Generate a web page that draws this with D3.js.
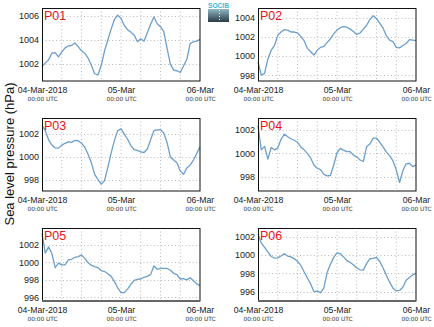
<!DOCTYPE html>
<html><head><meta charset="utf-8">
<script src="https://cdn.jsdelivr.net/npm/d3@7"></script>
<style>body{margin:0;background:#fff}svg{display:block;font-family:"Liberation Sans",Arial,sans-serif}</style>
</head><body><svg id="c" width="434" height="327"></svg>
<script>
const panelNames = ["P01","P02","P03","P04","P05","P06"];
const hours = [0,1,2,3,4,5,6,7,8,9,10,11,12,13,14,15,16,17,18,19,20,21,22,23,24,25,26,27,28,29,30,31,32,33,34,35,36,37,38,39,40,41,42,43,44,45,46,47,48];
const p01 = [1001.8,1002.1,1002.35,1002.9,1002.95,1002.6,1003.0,1003.35,1003.5,1003.55,1003.75,1003.45,1003.1,1002.9,1002.5,1001.9,1001.2,1001.1,1001.9,1003.1,1004.0,1004.9,1005.7,1006.05,1005.8,1005.2,1004.85,1004.65,1004.4,1003.85,1004.1,1003.9,1004.6,1005.3,1005.9,1005.35,1005.1,1004.7,1003.3,1002.0,1001.5,1001.45,1001.3,1001.85,1002.4,1003.7,1003.85,1003.9,1004.05];
const p02 = [999.4,998.0,998.2,999.7,1000.6,1001.1,1002.15,1002.5,1002.75,1002.7,1002.5,1002.5,1002.4,1002.05,1001.6,1000.8,1000.45,1000.1,1000.6,1000.9,1001.0,1001.4,1001.8,1002.3,1002.7,1002.95,1003.05,1003.0,1002.8,1002.55,1002.25,1002.4,1002.8,1003.2,1003.8,1004.2,1003.9,1003.4,1002.9,1002.1,1001.65,1001.5,1000.9,1000.85,1001.1,1001.3,1001.7,1001.65,1001.6];
const p03 = [1002.78,1002.3,1001.5,1001.05,1000.8,1000.78,1001.04,1001.2,1001.33,1001.28,1001.46,1001.42,1001.2,1000.86,1000.25,999.5,998.5,998.05,997.65,997.95,999.1,1000.35,1001.45,1002.3,1002.45,1002.0,1001.55,1001.0,1000.64,1000.58,1000.45,1000.4,1000.7,1001.5,1002.3,1002.37,1002.38,1002.1,1001.25,1000.0,999.75,999.5,998.8,998.5,999.05,999.3,999.74,1000.3,1000.9];
const p04 = [1002.4,1000.3,1000.6,999.5,1000.5,1000.3,1000.45,1001.2,1001.65,1001.42,1001.25,1001.12,1000.95,1000.55,1000.3,1000.0,999.6,999.0,998.72,998.6,998.2,998.06,998.1,999.0,1000.05,1000.43,1000.28,1000.14,1000.14,999.85,999.7,999.43,999.3,1000.57,1000.8,1001.3,1001.3,1000.95,1000.55,1000.1,999.8,999.35,998.6,997.5,998.5,999.1,999.15,998.86,999.0];
const p05 = [1003.3,1001.05,1001.75,1001.0,999.4,999.9,999.7,999.7,1000.27,1000.34,1000.57,1000.65,1000.84,1000.45,999.95,999.65,999.5,999.4,999.05,998.95,998.7,998.4,997.8,997.1,996.55,996.55,996.95,997.5,997.95,998.05,998.1,998.3,998.4,998.6,999.6,999.2,999.3,999.3,999.3,999.1,998.75,998.6,998.1,998.15,998.0,998.25,997.9,997.55,997.35];
const p06 = [1002.3,1001.3,1000.85,1000.35,999.85,999.68,999.7,999.9,1000.15,999.9,999.8,999.62,999.3,998.9,998.18,997.5,996.85,996.0,996.1,995.9,996.4,998.1,999.0,999.75,1000.25,1000.15,999.8,999.4,999.2,998.95,998.6,998.4,998.36,999.1,999.6,999.64,999.75,999.3,998.6,997.8,997.05,996.4,996.12,996.15,996.5,997.25,997.55,997.85,998.0];
const seriesValues = [p01,p02,p03,p04,p05,p06];
const yDomains = [[1000.6,1006.65],[997.4,1005.0],[997.05,1003.4],[996.77,1003.03],[995.6,1003.9],[995.0,1002.95]];
const yTickValues = [[1002,1004,1006],[998,1000,1002,1004],[998,1000,1002],[998,1000,1002],[996,998,1000,1002],[996,998,1000,1002]];
const xTickLabels = ["04-Mar-2018","05-Mar","06-Mar"];
const xSubLabel = "00:00 UTC";
const yTitle = "Sea level pressure (hPa)";

const svg = d3.select("#c");
const colX = [42, 258], rowY = [8, 118, 228];
const W = 158, H = 73;
const t0 = Date.UTC(2018,2,4);
const x = d3.scaleUtc().domain([new Date(t0), new Date(t0 + 48*3600e3)]).range([0, W]);
const gridTimes = d3.utcHour.every(6).range(new Date(t0), new Date(t0 + 48*3600e3 + 1));
const labelTimes = [new Date(t0), new Date(t0+24*3600e3), new Date(t0+48*3600e3)];

panelNames.forEach((name, i) => {
  const g = svg.append("g").attr("transform", `translate(${colX[i%2]},${rowY[Math.floor(i/2)]})`);
  const y = d3.scaleLinear().domain(yDomains[i]).range([H, 0]);
  g.append("g").selectAll("line").data(gridTimes.slice(1,-1)).join("line")
    .attr("x1", d=>x(d)).attr("x2", d=>x(d)).attr("y1",0).attr("y2",H)
    .attr("stroke","#bbb").attr("stroke-width",1).attr("stroke-dasharray","1,2.5");
  g.append("g").selectAll("line").data(yTickValues[i]).join("line")
    .attr("x1",0).attr("x2",W).attr("y1",d=>Math.round(y(d))+0.5).attr("y2",d=>Math.round(y(d))+0.5)
    .attr("stroke","#bbb").attr("stroke-width",1).attr("stroke-dasharray","1,2.5");
  const ya = d3.axisLeft(y).tickValues(yTickValues[i]).tickSize(0).tickPadding(3).tickFormat(d3.format("d"));
  const yg = g.append("g").call(ya);
  yg.select(".domain").remove();
  yg.selectAll("text").attr("font-size","9px").attr("fill","#222").attr("font-family","Liberation Sans, Arial, sans-serif");
  const xa = d3.axisBottom(x).tickValues(labelTimes).tickSize(0).tickPadding(0).tickFormat((d,k)=>xTickLabels[k]);
  const xg = g.append("g").attr("transform",`translate(0,${H})`).call(xa);
  xg.select(".domain").remove();
  xg.selectAll("text").attr("font-size","8.7px").attr("fill","#222").attr("dy",null).attr("y",11.5)
    .attr("font-family","Liberation Sans, Arial, sans-serif");
  xg.selectAll(".tick").append("text").attr("y",19.5).attr("fill","#333").attr("font-size","5.8px")
    .attr("text-anchor","middle").attr("font-family","DejaVu Sans, sans-serif").text(xSubLabel);
  const line = d3.line().x((d,k)=>x(new Date(t0 + hours[k]*3600e3))).y(d=>y(d)).curve(d3.curveLinear);
  g.append("path").datum(seriesValues[i]).attr("d", line).attr("fill","none")
    .attr("stroke","#6c9fcc").attr("stroke-width",1.3).attr("stroke-linejoin","round");
  g.append("rect").attr("x",0.5).attr("y",0.5).attr("width",W-0.5).attr("height",H-0.5)
    .attr("fill","none").attr("stroke","#111").attr("stroke-width",1);
  if (i >= 4) {
    g.append("line").attr("x1",0).attr("x2",W).attr("y1",H).attr("y2",H).attr("stroke","#666").attr("stroke-width",2);
  }
  g.append("text").attr("x",2).attr("y",12).attr("fill","#e8141b").attr("font-size","12.5px")
    .attr("font-family","Liberation Sans, Arial, sans-serif").text(name);
});

svg.append("text").attr("transform","translate(14,154) rotate(-90)").attr("text-anchor","middle")
  .attr("font-size","13px").attr("fill","#111").attr("font-family","Liberation Sans, Arial, sans-serif").text(yTitle);

const defs = svg.append("defs");
const grad = defs.append("linearGradient").attr("id","lg").attr("x1",0).attr("x2",0).attr("y1",0).attr("y2",1);
grad.append("stop").attr("offset","0%").attr("stop-color","#8fb8c4");
grad.append("stop").attr("offset","100%").attr("stop-color","#2b3a44");
svg.append("text").attr("x",208).attr("y",8).attr("font-size","8px").attr("font-weight","bold").attr("fill","#36b8d8")
  .attr("font-family","Liberation Sans, Arial, sans-serif").attr("textLength",21).attr("lengthAdjust","spacingAndGlyphs").text("SOCIB");
svg.append("rect").attr("x",208).attr("y",9).attr("width",21).attr("height",13).attr("fill","url(#lg)");
svg.append("line").attr("x1",219.5).attr("x2",219.5).attr("y1",10).attr("y2",20).attr("stroke","#fff")
  .attr("stroke-width",1).attr("stroke-dasharray","1,2");
</script></body></html>
